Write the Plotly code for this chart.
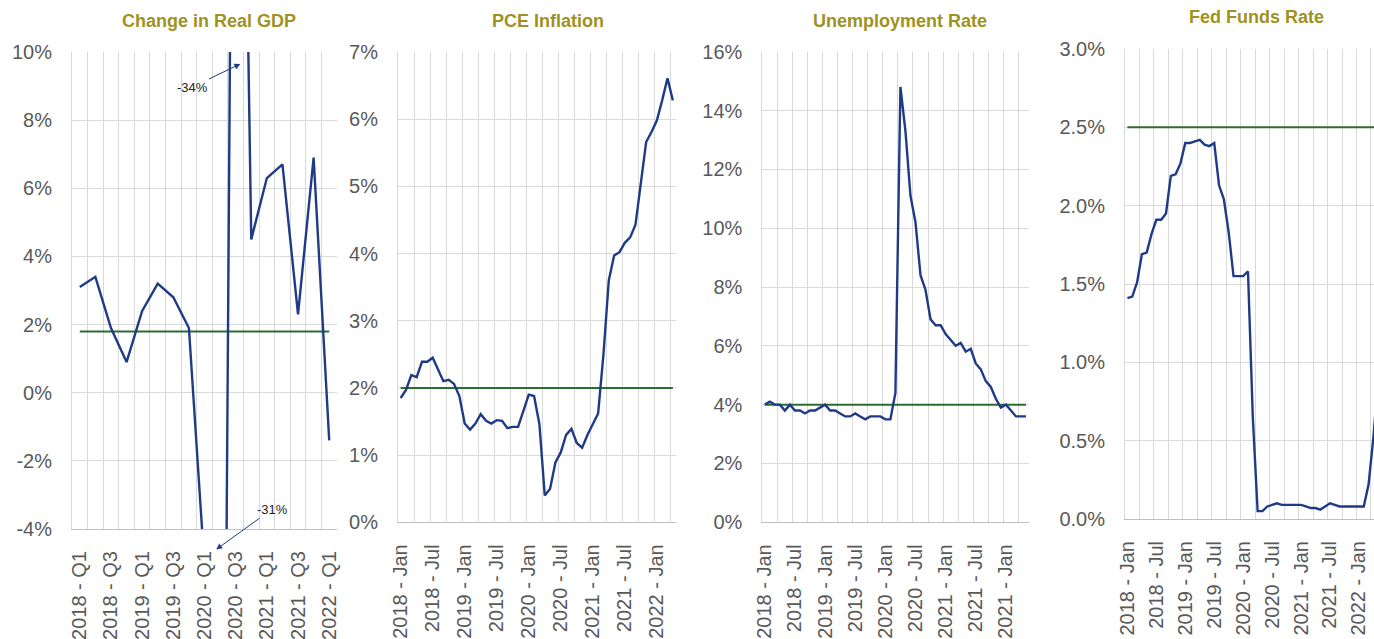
import plotly.graph_objects as go

W, H = 1374, 639

# ---------------- data ----------------
gdp_quarters = ["2018 - Q1", "2018 - Q2", "2018 - Q3", "2018 - Q4",
                "2019 - Q1", "2019 - Q2", "2019 - Q3", "2019 - Q4",
                "2020 - Q1", "2020 - Q2", "2020 - Q3", "2020 - Q4",
                "2021 - Q1", "2021 - Q2", "2021 - Q3", "2021 - Q4",
                "2022 - Q1"]
gdp_values = [3.1, 3.4, 1.9, 0.9, 2.4, 3.2, 2.8, 1.9, -5.1, -31.2, 33.8,
              4.5, 6.3, 6.7, 2.3, 6.9, -1.4]
gdp_target = 1.8
gdp_ticklabels = ["2018 - Q1", "2018 - Q3", "2019 - Q1", "2019 - Q3",
                  "2020 - Q1", "2020 - Q3", "2021 - Q1", "2021 - Q3",
                  "2022 - Q1"]
gdp_yticks = [-4, -2, 0, 2, 4, 6, 8, 10]
gdp_ylabels = ["-4%", "-2%", "0%", "2%", "4%", "6%", "8%", "10%"]

pce_values = [1.85, 1.97, 2.19, 2.16, 2.39, 2.39, 2.45, 2.28, 2.10, 2.12, 2.06, 1.88,
              1.47, 1.38, 1.47, 1.61, 1.51, 1.47, 1.52, 1.51, 1.40, 1.42, 1.42, 1.66,
              1.90, 1.88, 1.46, 0.40, 0.50, 0.89, 1.04, 1.30, 1.39, 1.18, 1.11, 1.30,
              1.45, 1.62, 2.50, 3.60, 3.97, 4.02, 4.16, 4.24, 4.43, 5.09, 5.66, 5.81,
              5.98, 6.28, 6.61, 6.28]
pce_target = 2.0
pce_ticklabels = ["2018 - Jan", "2018 - Jul", "2019 - Jan", "2019 - Jul",
                  "2020 - Jan", "2020 - Jul", "2021 - Jan", "2021 - Jul",
                  "2022 - Jan"]
pce_yticks = [0, 1, 2, 3, 4, 5, 6, 7]
pce_ylabels = ["0%", "1%", "2%", "3%", "4%", "5%", "6%", "7%"]

unemp_values = [4.0, 4.1, 4.0, 4.0, 3.8, 4.0, 3.8, 3.8, 3.7, 3.8, 3.8, 3.9,
                4.0, 3.8, 3.8, 3.7, 3.6, 3.6, 3.7, 3.6, 3.5, 3.6, 3.6, 3.6,
                3.5, 3.5, 4.4, 14.8, 13.3, 11.1, 10.2, 8.4, 7.9, 6.9, 6.7, 6.7,
                6.4, 6.2, 6.0, 6.1, 5.8, 5.9, 5.4, 5.2, 4.8, 4.6, 4.2, 3.9,
                4.0, 3.8, 3.6, 3.6, 3.6]
unemp_target = 4.0
unemp_ticklabels = ["2018 - Jan", "2018 - Jul", "2019 - Jan", "2019 - Jul",
                    "2020 - Jan", "2020 - Jul", "2021 - Jan", "2021 - Jul",
                    "2021 - Jan"]
unemp_yticks = [0, 2, 4, 6, 8, 10, 12, 14, 16]
unemp_ylabels = ["0%", "2%", "4%", "6%", "8%", "10%", "12%", "14%", "16%"]

fed_values = [1.41, 1.42, 1.51, 1.69, 1.70, 1.82, 1.91, 1.91, 1.95, 2.19, 2.20, 2.27,
              2.40, 2.40, 2.41, 2.42, 2.39, 2.38, 2.40, 2.13, 2.04, 1.83, 1.55, 1.55,
              1.55, 1.58, 0.65, 0.05, 0.05, 0.08, 0.09, 0.10, 0.09, 0.09, 0.09, 0.09,
              0.09, 0.08, 0.07, 0.07, 0.06, 0.08, 0.10, 0.09, 0.08, 0.08, 0.08, 0.08,
              0.08, 0.08, 0.22, 0.52, 0.90]
fed_target = 2.5
fed_ticklabels = ["2018 - Jan", "2018 - Jul", "2019 - Jan", "2019 - Jul",
                  "2020 - Jan", "2020 - Jul", "2021 - Jan", "2021 - Jul",
                  "2022 - Jan"]
fed_yticks = [0, 0.5, 1.0, 1.5, 2.0, 2.5, 3.0]
fed_ylabels = ["0.0%", "0.5%", "1.0%", "1.5%", "2.0%", "2.5%", "3.0%"]

titles = ["Change in Real GDP", "PCE Inflation", "Unemployment Rate", "Fed Funds Rate"]

# ---------------- style ----------------
LINE = "#1f3b87"
GREEN = "#2e6b2e"
GRID = "#d9d9d9"
AXIS = "#bfbfbf"
TICK = "#595959"
TITLE = "#9e9222"
FONT = "Liberation Sans, Arial, sans-serif"


def px_x(p):
    return p / W


def px_y(p):
    return 1 - p / H


# panel geometry in pixels: (left, right, top, bottom)
panels = [
    dict(vals=gdp_values, tgt=gdp_target, labels=gdp_ticklabels, lstep=2, gstep=1,
         box=(72, 337, 52, 529), yr=(-4, 10), yt=gdp_yticks, yl=gdp_ylabels,
         xmax=None, title_xy=(208.5, 21)),
    dict(vals=pce_values, tgt=pce_target, labels=pce_ticklabels, lstep=6, gstep=3,
         box=(398, 675.5, 52, 522.3), yr=(0, 7), yt=pce_yticks, yl=pce_ylabels,
         xmax=None, title_xy=(548, 21)),
    dict(vals=unemp_values, tgt=unemp_target, labels=unemp_ticklabels, lstep=6, gstep=3,
         box=(762.3, 1028.5, 51.7, 522.3), yr=(0, 16), yt=unemp_yticks, yl=unemp_ylabels,
         xmax=None, title_xy=(900, 21)),
    dict(vals=fed_values, tgt=fed_target, labels=fed_ticklabels, lstep=6, gstep=3,
         box=(1125, 1374, 49, 519), yr=(0, 3), yt=fed_yticks, yl=fed_ylabels,
         xmax=(1374 - 1125) / 4.823 - 0.5, title_xy=(1256.5, 17)),
]

fig = go.Figure()
annotations = []

for i, p in enumerate(panels, start=1):
    xs = list(range(len(p["vals"])))
    xa = "x" if i == 1 else f"x{i}"
    ya = "y" if i == 1 else f"y{i}"
    fig.add_trace(go.Scatter(x=xs, y=[p["tgt"]] * len(xs), mode="lines",
                             line=dict(color=GREEN, width=2), xaxis=xa, yaxis=ya,
                             showlegend=False, hoverinfo="skip"))
    fig.add_trace(go.Scatter(x=xs, y=p["vals"], mode="lines",
                             line=dict(color=LINE, width=2.4), xaxis=xa, yaxis=ya,
                             showlegend=False))
    n = len(xs)
    xmax = p["xmax"] if p["xmax"] is not None else n - 0.5
    left, right, top, bottom = p["box"]
    grid_vals = [k - 0.5 for k in range(0, n + 1, p["gstep"])]
    tick_vals = list(range(0, n, p["lstep"]))[:len(p["labels"])]
    xkey = "xaxis" if i == 1 else f"xaxis{i}"
    ykey = "yaxis" if i == 1 else f"yaxis{i}"
    fig.layout[xkey] = dict(
        domain=[px_x(left), px_x(right)], anchor=ya, range=[-0.5, xmax],
        tickmode="array", tickvals=tick_vals, ticktext=p["labels"],
        tickangle=-90, showgrid=False, zeroline=False, ticks="",
        showline=True, linecolor=AXIS, linewidth=1, automargin=False,
        tickfont=dict(family=FONT, size=20, color=TICK),
        ticklabelstandoff=13,
        minor=dict(tickmode="array", tickvals=grid_vals, showgrid=True,
                   gridcolor=GRID, gridwidth=1, ticks=""),
        fixedrange=True,
    )
    fig.layout[ykey] = dict(
        domain=[px_y(bottom), px_y(top)], anchor=xa, range=list(p["yr"]),
        tickmode="array", tickvals=p["yt"], ticktext=p["yl"],
        showgrid=True, gridcolor=GRID, gridwidth=1, zeroline=False,
        showline=True, linecolor=GRID, linewidth=1, ticks="", automargin=False,
        tickfont=dict(family=FONT, size=20, color=TICK),
        ticklabelstandoff=15, fixedrange=True,
    )
    tx, ty = p["title_xy"]
    annotations.append(dict(text="<b>" + titles[i - 1] + "</b>", xref="paper", yref="paper",
                            x=px_x(tx), y=px_y(ty), xanchor="center", yanchor="middle",
                            showarrow=False,
                            font=dict(family=FONT, size=18, color=TITLE)))

# GDP off-scale call-outs
annotations.append(dict(text="-34%", xref="x", yref="y", axref="x", ayref="y",
                        x=10.3, y=9.65, ax=7.2, ay=8.97, showarrow=True,
                        arrowhead=2, arrowsize=1.2, arrowwidth=1, arrowcolor=LINE,
                        font=dict(family=FONT, size=13, color="#222222")))
annotations.append(dict(text="-31%", xref="x", yref="y", axref="x", ayref="y",
                        x=8.75, y=-4.6, ax=12.33, ay=-3.42, showarrow=True,
                        arrowhead=2, arrowsize=1.2, arrowwidth=1, arrowcolor=LINE,
                        font=dict(family=FONT, size=13, color="#222222")))

fig.update_layout(width=W, height=H, margin=dict(l=0, r=0, t=0, b=0, autoexpand=False),
                  paper_bgcolor="white", plot_bgcolor="white",
                  annotations=annotations, showlegend=False)

fig.write_html("out.html", config={"displayModeBar": False})
